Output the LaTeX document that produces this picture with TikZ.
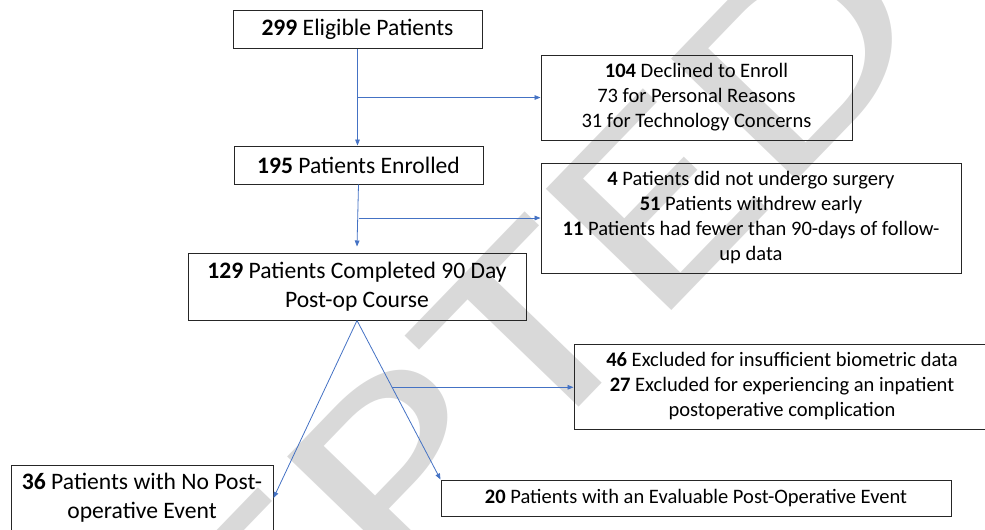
\documentclass[tikz,border=0pt]{standalone}
\usepackage{graphicx}
\usepackage{fontspec}
\setmainfont{Carlito}
\usetikzlibrary{arrows.meta,calc,positioning}
\definecolor{linkblue}{RGB}{68,114,196}
\definecolor{wmgray}{RGB}{217,217,217}
\begin{document}
\begin{tikzpicture}[x=0.75pt,y=-0.75pt,
    font=\fontsize{15.4}{18.75}\selectfont,
    box/.style={draw=black!85, line width=0.75pt, align=center, inner sep=0pt},
    bigbox/.style={box, font=\fontsize{17.7}{21.75}\selectfont},
    boxsize/.style 2 args={minimum width=#1*0.75pt, minimum height=#2*0.75pt},
    link/.style={draw=linkblue, line width=0.6pt, -{Triangle[length=4.5pt,width=3.5pt]}},
    wmtext/.style={text=wmgray, inner sep=0pt, font=\fontsize{204}{204}\selectfont}]

    \useasboundingbox (0,0) rectangle (985,529);

    \node[wmtext, rotate=46] (wm) at (329,540) {\scalebox{1.37}[1]{ACCEPTED}};

    \node[bigbox, boxsize={249}{38}] (elig) at (357.5,29) {\textbf{299} Eligible Patients};
    \node[box, boxsize={311}{85}] (decl) at (696.5,97.5) {\textbf{104} Declined to Enroll\\73 for Personal Reasons\\31 for Technology Concerns};
    \node[bigbox, boxsize={249}{38}] (enrol) at (358.5,165) {\textbf{195} Patients Enrolled};
    \node[box, boxsize={420}{110}] (lost) at (751,218) {\textbf{4} Patients did not undergo surgery\\\textbf{51} Patients withdrew early\\\textbf{11} Patients had fewer than 90-days of follow-\\up data};
    \node[bigbox, boxsize={338}{67}] (compl) at (357,286.5) {\textbf{129} Patients Completed 90 Day\\Post-op Course};
    \node[box, boxsize={416}{85}] (excl) at (782,386.5) {\textbf{46} Excluded for insufficient biometric data\\\textbf{27} Excluded for experiencing an inpatient\\postoperative complication};
    \node[bigbox, boxsize={262}{66}] (noev) at (142,498) {\textbf{36} Patients with No Post-\\operative Event};
    \node[box, boxsize={510}{36}] (event) at (696,498) {\textbf{20} Patients with an Evaluable Post-Operative Event};

    \draw[link] (elig.south) -- (elig.south |- enrol.north);
    \draw[link] (elig.south |- decl.west) -- (decl.west);
    \draw[link] (enrol.south) -- ($(compl.north)+(0,-6)$);
    \draw[link] (enrol.south |- lost.west) -- (lost.west);
    \draw[link] (compl.south) -- (noev.east);
    \draw[link] (compl.south) -- (event.north west);
    \coordinate (br) at ($(compl.south)!0.42!(event.north west)$);
    \draw[link] (br) -- (br -| excl.west);
\end{tikzpicture}
\end{document}
